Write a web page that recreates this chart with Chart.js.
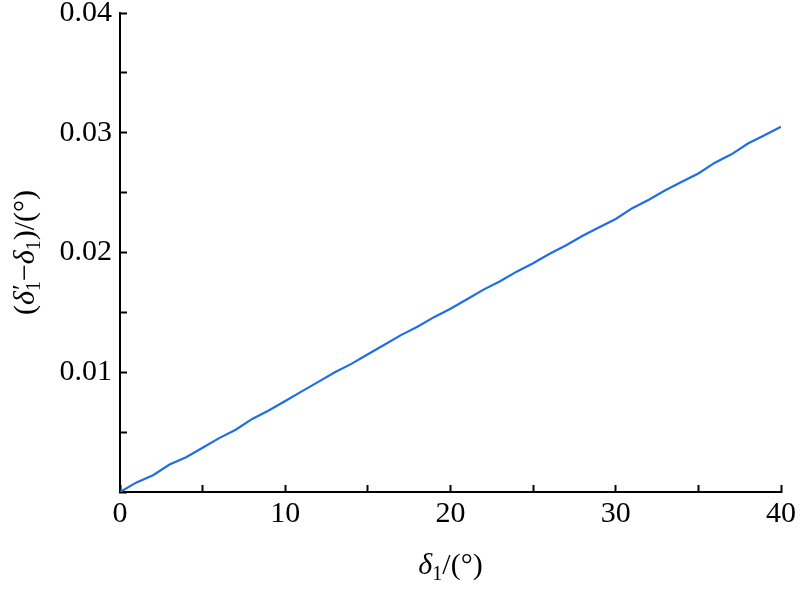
<!DOCTYPE html>
<html>
<head>
<meta charset="utf-8">
<script src="https://cdn.jsdelivr.net/npm/chart.js@4/dist/chart.umd.min.js"></script>
<style>
html,body{margin:0;padding:0;background:#ffffff;}
#wrap{width:800px;height:595px;position:relative;}
</style>
</head>
<body>
<div id="wrap"><canvas id="c" width="800" height="595"></canvas></div>
<script>
// Data
const delta1 = [0,1,2,3,4,5,6,7,8,9,10,11,12,13,14,15,16,17,18,19,20,21,22,23,24,25,26,27,28,29,30,31,32,33,34,35,36,37,38,39,40];
const deviation = [0,0.0008,0.0014,0.0023,0.0029,0.0037,0.0045,0.0052,0.0061,0.0068,0.0076,0.0084,0.0092,0.0100,0.0107,0.0115,0.0123,0.0131,0.0138,0.0146,0.0153,0.0161,0.0169,0.0176,0.0184,0.0191,0.0199,0.0206,0.0214,0.0221,0.0228,0.0237,0.0244,0.0252,0.0259,0.0266,0.0275,0.0282,0.0291,0.0298,0.0305];
const xTickLabels = [0,10,20,30,40];
const yTickLabels = [0.01,0.02,0.03,0.04];

const FONT = '"Liberation Serif","Times New Roman",serif';

function drawRich(ctx, segs, cx, baseY) {
  let total = 0;
  const widths = segs.map(s => {
    ctx.font = (s.italic ? 'italic ' : '') + s.size + 'px ' + FONT;
    const w = s.stack ? 0 : ctx.measureText(s.t).width;
    total += w;
    return w;
  });
  let x = cx - total / 2;
  segs.forEach((s, i) => {
    ctx.font = (s.italic ? 'italic ' : '') + s.size + 'px ' + FONT;
    ctx.fillText(s.t, x + (s.dx || 0), baseY + (s.dy || 0));
    x += widths[i];
  });
}

const titlePlugin = {
  id: 'richTitles',
  afterDraw(chart) {
    const ctx = chart.ctx;
    const a = chart.chartArea;
    ctx.save();
    ctx.fillStyle = '#000';
    ctx.textBaseline = 'alphabetic';
    ctx.textAlign = 'left';
    drawRich(ctx, [
      {t:'δ', italic:true, size:30},
      {t:'1', size:20, dy:6},
      {t:'/(°)', size:30}
    ], (a.left + a.right) / 2, 574);
    ctx.translate(34, (a.top + a.bottom) / 2);
    ctx.rotate(-Math.PI / 2);
    drawRich(ctx, [
      {t:'(', size:30},
      {t:'δ', italic:true, size:30},
      {t:'′', size:26, stack:true, dx:1, dy:-4},
      {t:'1', size:20, dy:6},
      {t:'−', size:30},
      {t:'δ', italic:true, size:30},
      {t:'1', size:20, dy:6},
      {t:')/(°)', size:30}
    ], 0, 0);
    ctx.restore();
  }
};

new Chart(document.getElementById('c'), {
  type: 'line',
  data: {
    datasets: [{
      data: delta1.map((x, i) => ({x: x, y: deviation[i]})),
      borderColor: '#1f6fe3',
      borderWidth: 2.2,
      pointRadius: 0,
      tension: 0,
      fill: false
    }]
  },
  options: {
    responsive: false,
    animation: false,
    layout: { padding: { top: 13, right: 19, left: 0, bottom: 0 } },
    plugins: { legend: { display: false }, tooltip: { enabled: false } },
    scales: {
      x: {
        type: 'linear',
        min: 0, max: 40,
        afterFit(s) { s.height = 103; s.paddingLeft = 0; s.paddingRight = 0; },
        ticks: {
          stepSize: 5,
          color: '#000',
          font: { family: FONT, size: 30 },
          padding: 11,
          maxRotation: 0,
          callback(v) { return xTickLabels.includes(v) ? String(v) : ''; }
        },
        grid: { drawOnChartArea: false, drawTicks: true, tickLength: -7, tickWidth: 2, tickColor: '#000' },
        border: { display: true, color: '#000', width: 2 }
      },
      y: {
        min: 0, max: 0.04,
        afterFit(s) { s.width = 120; s.paddingTop = 0; s.paddingBottom = 0; },
        ticks: {
          stepSize: 0.005,
          color: '#000',
          font: { family: FONT, size: 30 },
          padding: 15,
          callback(v) {
            const r = Math.round(v * 1000) / 1000;
            return yTickLabels.some(t => Math.abs(t - r) < 1e-9) ? r.toFixed(2) : '';
          }
        },
        grid: { drawOnChartArea: false, drawTicks: true, tickLength: -7, tickWidth: 2, tickColor: '#000' },
        border: { display: true, color: '#000', width: 2 }
      }
    }
  },
  plugins: [titlePlugin]
});
</script>
</body>
</html>
